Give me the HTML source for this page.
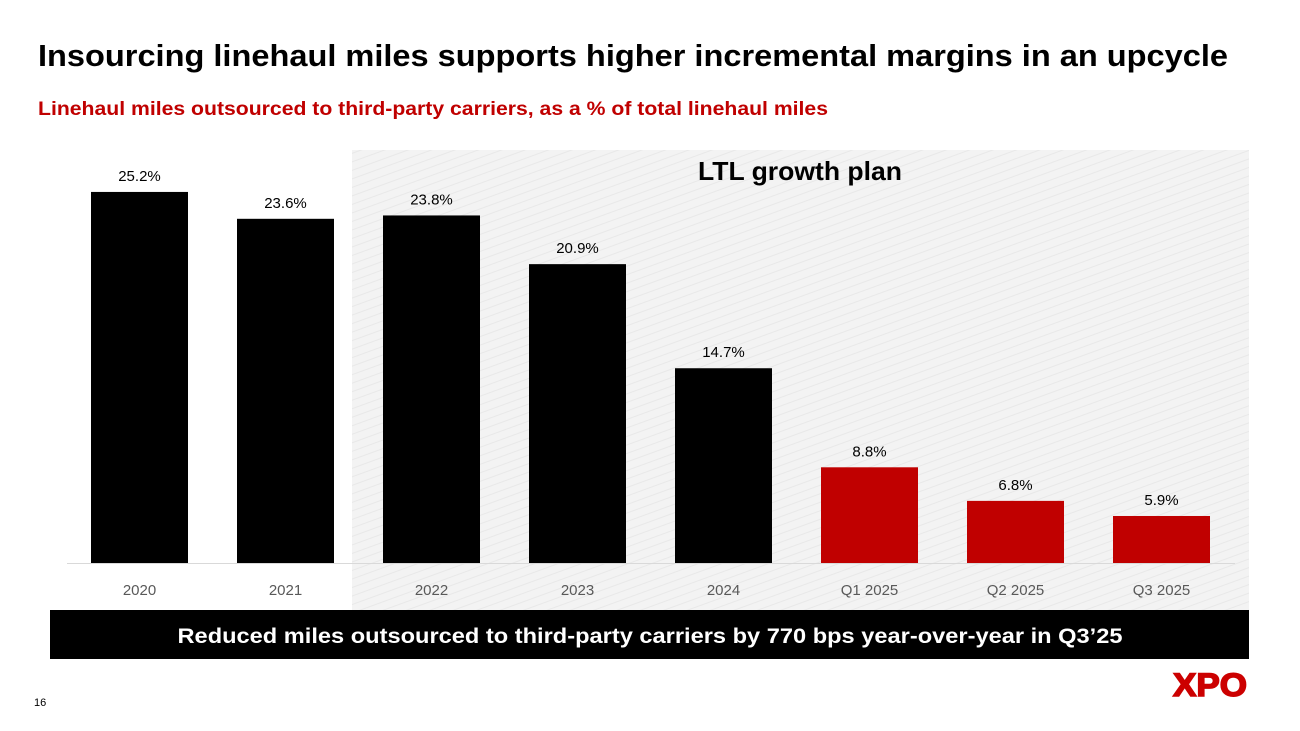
<!DOCTYPE html>
<html><head><meta charset="utf-8"><style>
html,body{margin:0;padding:0;background:#fff;}
svg{display:block;font-family:"Liberation Sans",sans-serif;}
</style></head><body>
<svg width="1300" height="731" viewBox="0 0 1300 731">
<defs>
<pattern id="hatch" width="8" height="8" patternUnits="userSpaceOnUse" patternTransform="rotate(-20)">
<rect width="8" height="8" fill="#f3f3f3"/>
<line x1="0" y1="0" x2="8" y2="0" stroke="#e8e8e8" stroke-width="2"/>
</pattern>
</defs>
<text x="38" y="66" font-size="31" font-weight="bold" fill="#000" textLength="1190" lengthAdjust="spacingAndGlyphs">Insourcing linehaul miles supports higher incremental margins in an upcycle</text>
<text x="38" y="115" font-size="19" font-weight="bold" fill="#c00000" textLength="790" lengthAdjust="spacingAndGlyphs">Linehaul miles outsourced to third-party carriers, as a % of total linehaul miles</text>
<rect x="352" y="150" width="897" height="460" fill="url(#hatch)"/>
<text x="800" y="180" font-size="26" font-weight="bold" text-anchor="middle" fill="#000" textLength="204" lengthAdjust="spacingAndGlyphs">LTL growth plan</text>
<g id="chart"></g>
<rect x="50" y="610" width="1199" height="49" fill="#000"/>
<text x="650" y="643" font-size="21" font-weight="bold" fill="#fff" text-anchor="middle" textLength="945" lengthAdjust="spacingAndGlyphs">Reduced miles outsourced to third-party carriers by 770 bps year-over-year in Q3’25</text>
<text x="1210" y="696" font-size="32" font-weight="bold" fill="#cc0000" stroke="#cc0000" stroke-width="1.5" text-anchor="middle" textLength="74" lengthAdjust="spacingAndGlyphs">XPO</text>
<text x="34" y="706" font-size="11" fill="#000">16</text>
</svg>
<script>
const categories=["2020","2021","2022","2023","2024","Q1 2025","Q2 2025","Q3 2025"];
const values=[25.2,23.6,23.8,20.9,14.7,8.8,6.8,5.9];
const labels=["25.2%","23.6%","23.8%","20.9%","14.7%","8.8%","6.8%","5.9%"];
const highlighted=[false,false,false,false,false,true,true,true];
const NS="http://www.w3.org/2000/svg";
const g=document.getElementById('chart');
const base=563, yMin=3.1, pxPer=16.79;
function y(v){return base-(v-yMin)*pxPer;}
function xc(i){return 139.5+i*146;}
const bw=97;
const ax=document.createElementNS(NS,'line');
ax.setAttribute('x1',67);ax.setAttribute('x2',1235);ax.setAttribute('y1',base+0.5);ax.setAttribute('y2',base+0.5);
ax.setAttribute('stroke','#d9d9d9');ax.setAttribute('stroke-width',1);


g.appendChild(ax);
categories.forEach((c,i)=>{
  const r=document.createElementNS(NS,'rect');
  r.setAttribute('x',xc(i)-bw/2);r.setAttribute('y',y(values[i]));
  r.setAttribute('width',bw);r.setAttribute('height',base-y(values[i]));
  r.setAttribute('fill',highlighted[i]?'#c00000':'#000');
  
  
  g.appendChild(r);
  const t=document.createElementNS(NS,'text');
  t.setAttribute('x',xc(i));t.setAttribute('y',y(values[i])-11);
  t.setAttribute('text-anchor','middle');t.setAttribute('font-size','15');t.setAttribute('fill','#000');
  t.textContent=labels[i];
  
  
  g.appendChild(t);
  const l=document.createElementNS(NS,'text');
  l.setAttribute('x',xc(i));l.setAttribute('y',595);
  l.setAttribute('text-anchor','middle');l.setAttribute('font-size','15');l.setAttribute('fill','#595959');
  l.textContent=c;
  
  
  g.appendChild(l);
});
</script>
</body></html>
